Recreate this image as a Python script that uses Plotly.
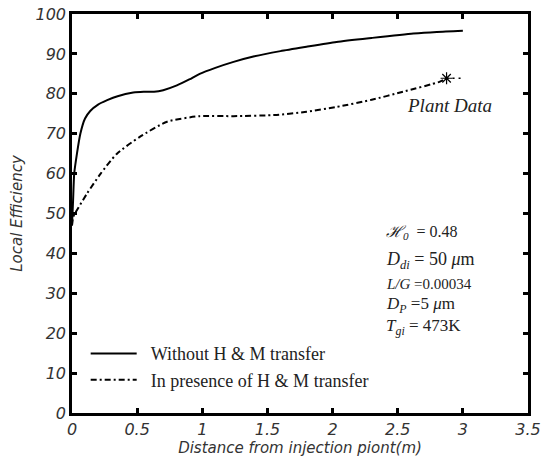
import plotly.graph_objects as go

# Data
x_without = [0, 0.008, 0.017, 0.038, 0.064, 0.1, 0.14, 0.2, 0.27, 0.35, 0.47, 0.55, 0.63, 0.7, 0.805,
             0.9, 0.98, 1.1, 1.24, 1.4, 1.6, 1.8, 2.03, 2.3, 2.62, 2.8, 3.0]
y_without = [47, 53, 60, 65, 70, 73.8, 75.7, 77.3, 78.4, 79.4, 80.3, 80.5, 80.5, 80.9, 82.1,
             83.6, 85, 86.5, 88, 89.4, 90.7, 91.8, 93, 94, 95.1, 95.5, 95.8]

x_with = [0, 0.01, 0.05, 0.115, 0.22, 0.345, 0.52, 0.73, 0.98, 1.24, 1.57, 1.8, 2.03, 2.3, 2.54, 2.82, 2.875]
y_with = [47, 49.2, 51.5, 55, 60, 65, 69.2, 73, 74.4, 74.4, 74.7, 75.5, 76.7, 78.5, 80.5, 83, 83.9]

x_ext = [2.875, 3.0]
y_ext = [83.9, 83.9]

plant_x = [2.875]
plant_y = [83.9]

x_ticks = [0, 0.5, 1, 1.5, 2, 2.5, 3, 3.5]
x_ticklabels = ["0", "0.5", "1", "1.5", "2", "2.5", "3", "3.5"]
y_ticks = [0, 10, 20, 30, 40, 50, 60, 70, 80, 90, 100]

SERIF = "Liberation Serif"
SANS = "DejaVu Sans"

fig = go.Figure()
fig.add_trace(go.Scatter(x=x_without, y=y_without, mode="lines",
                         name="&nbsp;&nbsp;Without H &amp; M transfer",
                         line=dict(color="black", width=2, shape="spline", smoothing=0.6)))
fig.add_trace(go.Scatter(x=x_with, y=y_with, mode="lines",
                         name="&nbsp;&nbsp;In presence of H &amp; M transfer",
                         line=dict(color="black", width=2, dash="6px,3px,2px,3px", shape="spline", smoothing=0.6)))
fig.add_trace(go.Scatter(x=x_ext, y=y_ext, mode="lines", showlegend=False,
                         line=dict(color="black", width=1.5, dash="2px,4px")))
fig.add_trace(go.Scatter(x=plant_x, y=plant_y, mode="markers", showlegend=False,
                         marker=dict(symbol="asterisk-open", size=10, color="black",
                                     line=dict(color="black", width=1.2))))

axis_common = dict(showline=True, linecolor="black", linewidth=2.5, mirror="ticks",
                   ticks="inside", ticklen=5, tickwidth=2.5, tickcolor="black",
                   showgrid=False, zeroline=False, automargin=False,
                   tickfont=dict(family=SANS, size=16, color="#333", style="italic"))

fig.update_xaxes(range=[0, 3.5], tickvals=x_ticks, ticktext=x_ticklabels,
                 title=dict(text="Distance from injection piont(m)", standoff=4,
                            font=dict(family=SANS, size=15, color="#333", style="italic")),
                 **axis_common)
fig.update_yaxes(range=[0, 100], tickvals=y_ticks,
                 title=dict(text="Local Efficiency", standoff=10,
                            font=dict(family=SANS, size=15, color="#333", style="italic")),
                 **axis_common)

ann_font = dict(family=SERIF, color="#222")
notes = [
    ("<i>ℋ<sub>0</sub></i>  = 0.48", 232, 16),
    ("<i>D<sub>di</sub></i> = 50 <i>μ</i>m", 260, 18),
    ("<i>L/G</i> =0.00034", 284, 15),
    ("<i>D<sub>P</sub></i> =5 <i>μ</i>m", 305, 17),
    ("<i>T<sub>gi</sub></i> = 473K", 327, 17),
]
plot_top, plot_bot = 14, 413
for text, ypix, size in notes:
    yp = (plot_bot - ypix) / (plot_bot - plot_top)
    fig.add_annotation(x=(384 - 71.7) / (528 - 71.7), y=yp, xref="paper", yref="paper",
                       text=text, showarrow=False, xanchor="left", yanchor="middle",
                       font=dict(size=size, **ann_font))

fig.add_annotation(x=(449 - 71.7) / (528 - 71.7), y=(plot_bot - 105) / (plot_bot - plot_top),
                   xref="paper", yref="paper", text="<i>Plant Data</i>", showarrow=False,
                   xanchor="center", yanchor="middle", font=dict(size=19, **ann_font))

fig.update_layout(
    width=553, height=461,
    margin=dict(l=72, r=25, t=14, b=48),
    plot_bgcolor="white", paper_bgcolor="white",
    legend=dict(x=0.03, y=0.195, xanchor="left", yanchor="top",
                bgcolor="rgba(0,0,0,0)", font=dict(family=SERIF, size=18, color="#222"),
                tracegroupgap=0, itemwidth=46),
)

fig.write_html("out.html", config={"displayModeBar": False},
               post_script="document.body.style.margin='0';document.body.style.overflow='hidden';")
